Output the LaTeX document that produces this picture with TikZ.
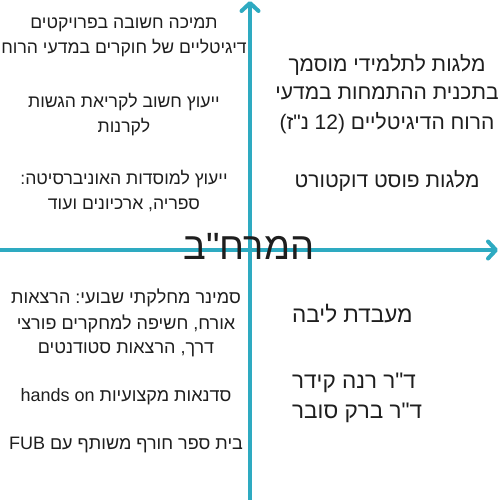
\documentclass[tikz,border=0pt]{standalone}
\usepackage{fontspec}
\setmainfont{Liberation Sans}
\newfontfamily\hebfont[Script=Hebrew]{Liberation Sans}
\TeXXeTstate=1
\frenchspacing
\usetikzlibrary{arrows.meta}
\definecolor{axisteal}{HTML}{2EAAC1}
\definecolor{txt}{HTML}{1E1E1E}
\tikzset{
  axisline/.style={draw=axisteal, line width=4pt, -{Straight Barb[length=8pt,width=17pt,round]}},
  heb/.style={font=\hebfont\fontsize{#1}{#1}\selectfont\frenchspacing, text=txt, inner sep=0pt, anchor=base},
  hebleft/.style={heb=#1, anchor=base west},
}
\begin{document}
\begin{tikzpicture}[x=1pt,y=-1pt]
\useasboundingbox (0,0) rectangle (500,500);
\fill[white] (0,0) rectangle (500,500);
% axes
\coordinate (xl) at (0,250);
\coordinate (xr) at (498,250);
\coordinate (yb) at (250,500);
\coordinate (yt) at (250,1);
\draw[axisline] (yb) -- (yt);
\draw[axisline] (xl) -- (xr);
% centre label
\node[heb=38] (center) at (249,259) {\beginR המרח"ב\endR};
% top left
\node[heb=17.6] (tl1) at (124,29) {\beginR תמיכה חשובה בפרויקטים\endR};
\node[heb=17.6] (tl2) at (124,54) {\beginR דיגיטליים של חוקרים במדעי הרוח\endR};
\node[heb=17.6] (tl3) at (124,108) {\beginR ייעוץ חשוב לקריאת הגשות\endR};
\node[heb=17.6] (tl4) at (124,132) {\beginR לקרנות\endR};
\node[heb=17.6] (tl5) at (124,184) {\beginR ייעוץ למוסדות האוניברסיטה\kern0pt:\endR};
\node[heb=17.6] (tl6) at (124,209) {\beginR ספריה\kern0pt, ארכיונים ועוד\endR};
% top right
\node[heb=21] (tr1) at (387,72) {\beginR מלגות לתלמידי מוסמך\endR};
\node[heb=21] (tr2) at (387,100) {\beginR בתכנית ההתמחות במדעי\endR};
\node[heb=21] (tr3) at (387,129) {\beginR הרוח הדיגיטליים (12 נ"ז\kern0pt)\endR};
\node[heb=21] (tr4) at (387,187) {\beginR מלגות פוסט דוקטורט\endR};
% bottom left
\node[heb=18] (bl1) at (126,303) {\beginR סמינר מחלקתי שבועי\kern0pt: הרצאות\endR};
\node[heb=18] (bl2) at (126,329) {\beginR אורח\kern0pt, חשיפה למחקרים פורצי\endR};
\node[heb=18] (bl3) at (126,353) {\beginR דרך\kern0pt, הרצאות סטודנטים\endR};
\node[heb=18] (bl4) at (126,401) {\beginR סדנאות מקצועיות \beginL hands on\endL\endR};
\node[heb=18] (bl5) at (126,449) {\beginR בית ספר חורף משותף עם \beginL FUB\endL\endR};
% bottom right
\node[hebleft=22.5] (br1) at (292,322) {\beginR מעבדת ליבה\endR};
\node[hebleft=22.5] (br2) at (292,388) {\beginR ד"ר רנה קידר\endR};
\node[hebleft=22.5] (br3) at (292,418) {\beginR ד"ר ברק סובר\endR};
\end{tikzpicture}
\end{document}
